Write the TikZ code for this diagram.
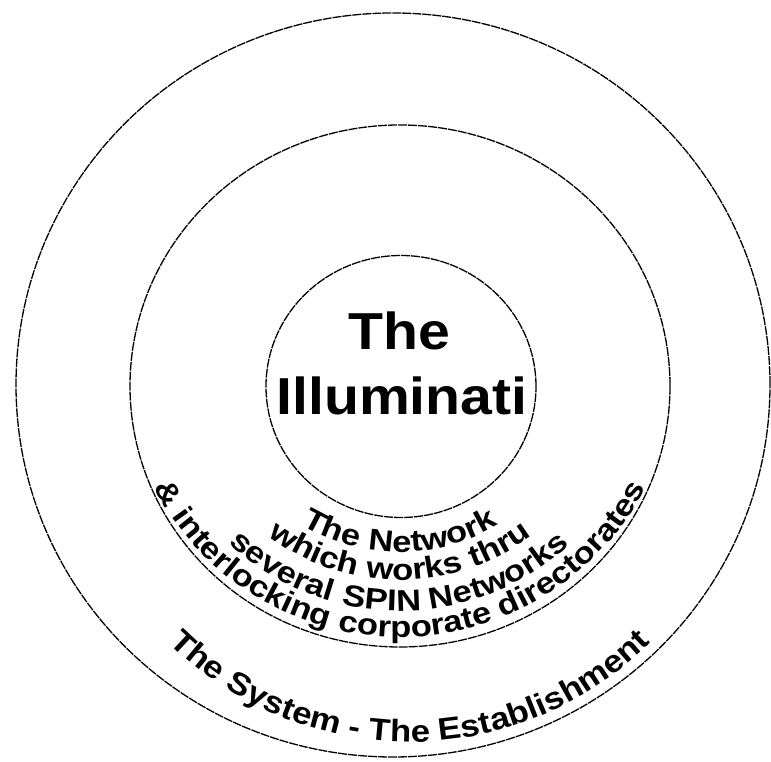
\documentclass[tikz,border=0pt]{standalone}
\usepackage{fontspec}
\setmainfont{Liberation Sans}
\newfontfamily\arcfont[FakeStretch=1.15]{Liberation Sans}
\newfontfamily\outfont[FakeStretch=1.12]{Liberation Sans}
\newfontfamily\ctrfont[FakeStretch=1.1]{Liberation Sans}
\usetikzlibrary{decorations.text}
\newcommand\ringtxt{\arcfont\bfseries\fontsize{30}{32}\selectfont}
\newcommand\outertxt{\outfont\bfseries\fontsize{31}{33}\selectfont}
\begin{document}
\begin{tikzpicture}[x=1pt,y=1pt,
  ring/.style={draw=black, line width=1.3pt, dash pattern=on 9pt off 1pt},
  ctr/.style={font=\ctrfont\bfseries\fontsize{52}{56}\selectfont, anchor=base, inner sep=0pt}
]
\useasboundingbox (0,0) rectangle (771,762);
% rings
\draw[ring] (393,377) ellipse[x radius=377, y radius=372];
\draw[ring] (400,376) ellipse[x radius=270, y radius=261];
\draw[ring] (401,375.5) ellipse[x radius=135, y radius=131];
% centre text
\node[ctr] (the) at (399,412) {The};
\node[ctr] (illu) at (402,347) {Illuminati};
% middle ring text (common centre 400,402)
\path[decorate, decoration={text along path, text align=center,
  text={|\ringtxt|The Network}}]
  ([shift={(200:192)}]400,402) arc[start angle=200, end angle=340, radius=192];
\path[decorate, decoration={text along path, text align=center,
  text={|\ringtxt|which works thru}}]
  ([shift={(200:220)}]400,402) arc[start angle=200, end angle=340, radius=220];
\path[decorate, decoration={text along path, text align=right,
  text={|\ringtxt|several}}]
  ([shift={(200:251)}]400,402) arc[start angle=200, end angle=254, radius=251];
\path[decorate, decoration={text along path, text align=left,
  text={|\ringtxt|SPIN Networks}}]
  ([shift={(256.5:251)}]400,402) arc[start angle=256.5, end angle=340, radius=251];
\path[decorate, decoration={text along path, text align=center,
  text={|\ringtxt|{\&} interlocking corporate directorates}}]
  ([shift={(200:277)}]400,402) arc[start angle=200, end angle=340, radius=277];
% outer ring text
\path[decorate, decoration={text along path, text align=center,
  text={|\outertxt|The System - The Establishment}}]
  ([shift={(210:342)}]410,362) arc[start angle=210, end angle=330, radius=342];
\end{tikzpicture}
\end{document}
